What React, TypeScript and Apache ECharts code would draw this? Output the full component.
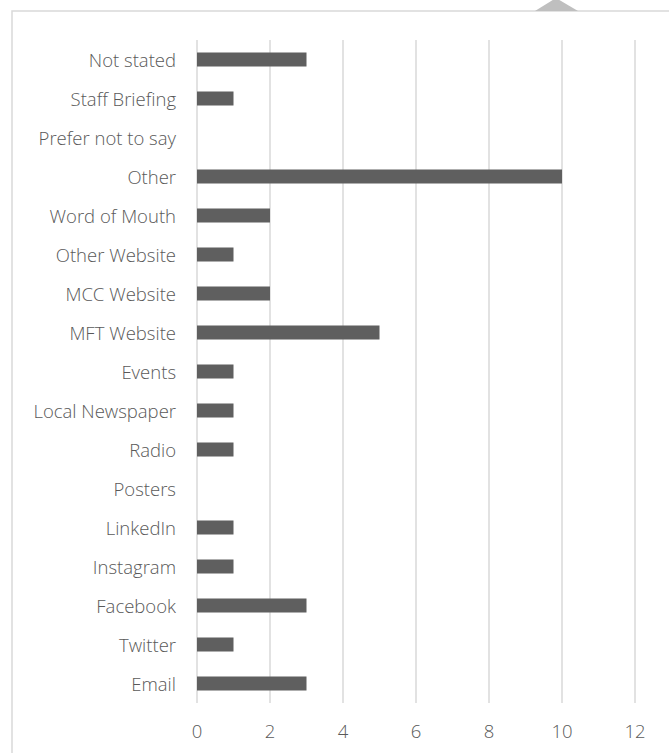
import React, { useEffect, useRef } from "react";
import * as echarts from "echarts";

const categories = [
  "Email",
  "Twitter",
  "Facebook",
  "Instagram",
  "LinkedIn",
  "Posters",
  "Radio",
  "Local Newspaper",
  "Events",
  "MFT Website",
  "MCC Website",
  "Other Website",
  "Word of Mouth",
  "Other",
  "Prefer not to say",
  "Staff Briefing",
  "Not stated",
];
const values = [3, 1, 3, 1, 1, 0, 1, 1, 1, 5, 2, 1, 2, 10, 0, 1, 3];

const FONT = "'Open Sans'";

export default function App() {
  const ref = useRef<HTMLDivElement>(null);
  useEffect(() => {
    document.body.style.margin = "0";
    const chart = echarts.init(ref.current!, null, { renderer: "svg" });
    chart.setOption({
      animation: false,
      backgroundColor: "#ffffff",
      grid: { left: 197, right: 34, top: 40, bottom: 50, containLabel: false },
      xAxis: {
        type: "value",
        min: 0,
        max: 12,
        interval: 2,
        axisLine: { show: false },
        axisTick: { show: false },
        splitLine: { show: true, lineStyle: { color: "#d9d9d9", width: 1.5 } },
        axisLabel: { color: "#595959", fontFamily: FONT, fontWeight: 300, fontSize: 18.5, margin: 18 },
      },
      yAxis: {
        type: "category",
        data: categories,
        axisLine: { show: false },
        axisTick: { show: false },
        splitLine: { show: false },
        axisLabel: { color: "#595959", fontFamily: FONT, fontWeight: 300, fontSize: 18.5, margin: 21 },
      },
      series: [
        {
          type: "bar",
          data: values,
          barWidth: 14,
          itemStyle: { color: "#5f5f5f" },
        },
      ],
      graphic: [
        {
          type: "rect",
          shape: { x: 12, y: 11, width: 800, height: 900 },
          style: { fill: "none", stroke: "#d9d9d9", lineWidth: 1.5 },
          silent: true,
          z: -1,
        },
        {
          type: "polygon",
          shape: { points: [[535, 11], [556, -2], [578, 11]] },
          style: { fill: "#bfbfbf" },
          silent: true,
        },
      ],
    });
    return () => chart.dispose();
  }, []);
  return <div ref={ref} style={{ width: 669, height: 753 }} />;
}
